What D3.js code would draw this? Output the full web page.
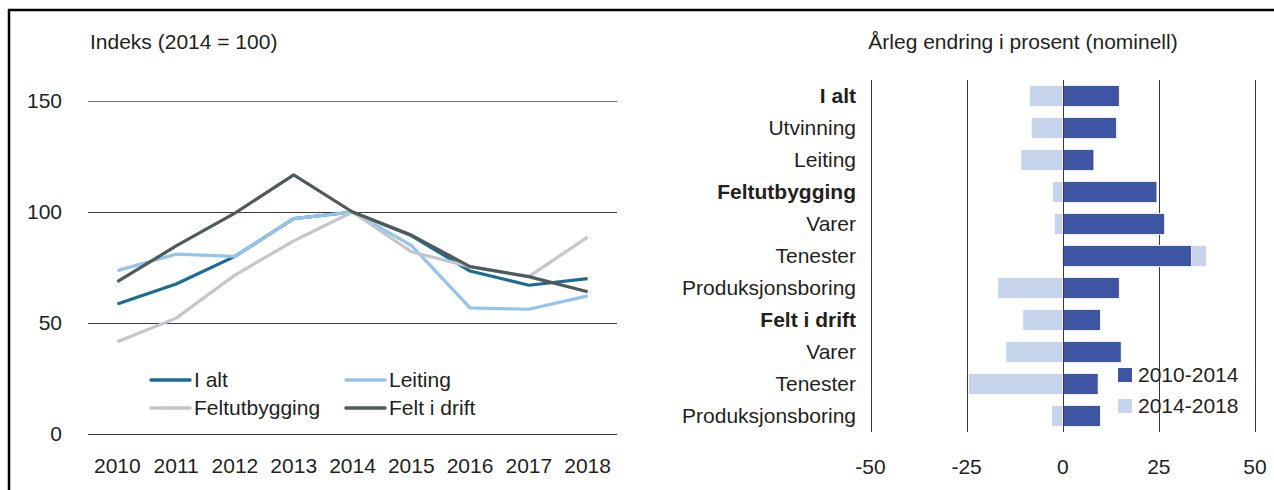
<!DOCTYPE html>
<html>
<head>
<meta charset="utf-8">
<script src="https://cdn.jsdelivr.net/npm/d3@7"></script>
<style>
  body { margin: 0; background: #fff; }
  svg text { font-family: "Liberation Sans", Arial, sans-serif; fill: #231f20; }
</style>
</head>
<body>
<div id="chart"></div>
<script>
// left panel: index 2014 = 100
const years = [2010, 2011, 2012, 2013, 2014, 2015, 2016, 2017, 2018];
const iAlt = [58.6, 67.6, 80, 97, 100, 89.4, 73.4, 67, 70];
const leiting = [73.6, 81, 80, 97, 100, 85, 56.8, 56.2, 62.2];
const feltutbygging = [41.6, 52.2, 71.6, 87, 100, 82.1, 75.4, 70.9, 88.7];
const feltIDrift = [68.6, 84.7, 99.5, 116.7, 100, 89.6, 75.4, 70.9, 64.1];
const lineNames = ["I alt", "Leiting", "Feltutbygging", "Felt i drift"];
const lineColors = ["#1b6b93", "#94c4ea", "#c3c6cb", "#4f5a5a"];
const yTicks = [0, 50, 100, 150];

// right panel: annual change in percent
const categories = ["I alt", "Utvinning", "Leiting", "Feltutbygging", "Varer", "Tenester",
  "Produksjonsboring", "Felt i drift", "Varer", "Tenester", "Produksjonsboring"];
const boldCats = [0, 3, 7];
const change1014 = [14.7, 14.0, 8.1, 24.5, 26.5, 33.5, 14.7, 9.8, 15.2, 9.2, 9.8];
const change1418 = [-8.7, -8.2, -10.9, -2.7, -2.2, 37.4, -16.9, -10.4, -14.8, -24.5, -2.9];
const barNames = ["2010-2014", "2014-2018"];
const barColors = ["#3e55a4", "#c6d5ec"];
const xTicks = [-50, -25, 0, 25, 50];

(function () {
  const width = 1274;
  const height = 490;
  const FONT = 21;

  const svg = d3.select("#chart").append("svg")
    .attr("width", width).attr("height", height)
    .attr("viewBox", [0, 0, width, height]);

  // frame
  svg.append("line").attr("x1", 8).attr("x2", width).attr("y1", 10).attr("y2", 10)
    .attr("stroke", "#000").attr("stroke-width", 2.5);
  svg.append("line").attr("x1", 9).attr("x2", 9).attr("y1", 9).attr("y2", height)
    .attr("stroke", "#000").attr("stroke-width", 2.5);

  // ---------- left chart ----------
  const L = { left: 88, right: 617, top: 101, bottom: 434 };
  const x = d3.scaleBand().domain(years).range([L.left, L.right]);
  const y = d3.scaleLinear().domain([0, 150]).range([L.bottom, L.top]);

  svg.append("text").attr("x", 90).attr("y", 42).attr("dy", "0.35em")
    .attr("font-size", FONT).text("Indeks (2014 = 100)");

  svg.selectAll(".ygrid").data(yTicks).join("line")
    .attr("class", "ygrid")
    .attr("x1", L.left).attr("x2", L.right)
    .attr("y1", d => Math.round(y(d)) + 0.5).attr("y2", d => Math.round(y(d)) + 0.5)
    .attr("stroke", d => d === 150 ? "#7a7a7a" : "#3a3a3a").attr("stroke-width", 1);

  svg.selectAll(".ylab").data(yTicks).join("text")
    .attr("class", "ylab")
    .attr("x", 62).attr("y", d => y(d)).attr("dy", "0.35em")
    .attr("text-anchor", "end").attr("font-size", FONT).text(d => d);

  svg.selectAll(".xlab").data(years).join("text")
    .attr("class", "xlab")
    .attr("x", d => x(d) + x.bandwidth() / 2).attr("y", 466).attr("dy", "0.35em")
    .attr("text-anchor", "middle").attr("font-size", FONT).text(d => d);

  const series = [iAlt, leiting, feltutbygging, feltIDrift];
  const line = d3.line()
    .x((d, i) => x(years[i]) + x.bandwidth() / 2)
    .y(d => y(d));

  svg.selectAll(".series").data(series).join("path")
    .attr("class", "series")
    .attr("d", d => line(d))
    .attr("fill", "none")
    .attr("stroke", (d, i) => lineColors[i])
    .attr("stroke-width", 3.2)
    .attr("stroke-linejoin", "round");

  const legendPos = [[151, 380], [346, 380], [151, 408], [346, 408]];
  const leg = svg.selectAll(".legL").data(lineNames).join("g")
    .attr("class", "legL")
    .attr("transform", (d, i) => `translate(${legendPos[i][0]}, ${legendPos[i][1]})`);
  leg.append("line").attr("x1", 0).attr("x2", 39).attr("y1", 0).attr("y2", 0)
    .attr("stroke", (d, i) => lineColors[i]).attr("stroke-width", 3.5)
    .attr("stroke-linecap", "round");
  leg.append("text").attr("x", 43).attr("y", 0).attr("dy", "0.35em")
    .attr("font-size", FONT).text(d => d);

  // ---------- right chart ----------
  const R = { left: 870.5, right: 1255, top: 80, bottom: 432 };
  const xb = d3.scaleLinear().domain([-50, 50]).range([R.left, R.right]);
  const yb = d3.scaleBand().domain(d3.range(categories.length)).range([R.top, R.bottom])
    .paddingInner(0.34).paddingOuter(0.17);

  svg.append("text").attr("x", 1023).attr("y", 42).attr("dy", "0.35em")
    .attr("text-anchor", "middle").attr("font-size", FONT)
    .text("Årleg endring i prosent (nominell)");

  svg.selectAll(".xgrid").data(xTicks).join("line")
    .attr("class", "xgrid")
    .attr("x1", d => Math.round(xb(d)) + 0.5).attr("x2", d => Math.round(xb(d)) + 0.5)
    .attr("y1", R.top).attr("y2", R.bottom)
    .attr("stroke", "#3a3a3a").attr("stroke-width", 1);

  svg.selectAll(".xlabR").data(xTicks).join("text")
    .attr("class", "xlabR")
    .attr("x", d => xb(d)).attr("y", 467).attr("dy", "0.35em")
    .attr("text-anchor", "middle").attr("font-size", FONT).text(d => d);

  // light bars behind, dark bars in front
  const barSeries = [change1418, change1014];
  const barCols = [barColors[1], barColors[0]];
  barSeries.forEach((vals, s) => {
    svg.selectAll(".bar" + s).data(vals).join("rect")
      .attr("class", "bar" + s)
      .attr("x", d => xb(Math.min(0, d)))
      .attr("width", d => Math.abs(xb(d) - xb(0)))
      .attr("y", (d, i) => yb(i))
      .attr("height", yb.bandwidth())
      .attr("fill", barCols[s])
      .attr("stroke", "#fff").attr("stroke-width", 0.8);
  });

  // zero line on top
  svg.append("line")
    .attr("x1", Math.round(xb(0)) + 0.5).attr("x2", Math.round(xb(0)) + 0.5)
    .attr("y1", R.top).attr("y2", R.bottom)
    .attr("stroke", "#3a3a3a").attr("stroke-width", 1);

  svg.selectAll(".cat").data(categories).join("text")
    .attr("class", "cat")
    .attr("x", 856).attr("y", (d, i) => yb(i) + yb.bandwidth() / 2).attr("dy", "0.35em")
    .attr("text-anchor", "end").attr("font-size", FONT)
    .attr("font-weight", (d, i) => boldCats.includes(i) ? "bold" : "normal")
    .text(d => d);

  const legR = svg.selectAll(".legR").data(barNames).join("g")
    .attr("class", "legR")
    .attr("transform", (d, i) => `translate(1118, ${368 + i * 31})`);
  legR.append("rect").attr("width", 14).attr("height", 14)
    .attr("fill", (d, i) => barColors[i]);
  legR.append("text").attr("x", 20).attr("y", 7).attr("dy", "0.35em")
    .attr("font-size", FONT).text(d => d);
})();
</script>
</body>
</html>
